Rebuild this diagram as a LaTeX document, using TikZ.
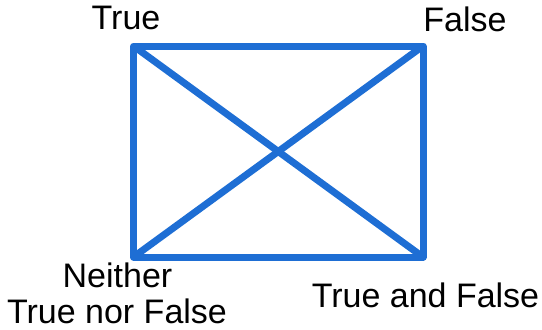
\documentclass[tikz,border=0pt]{standalone}
\usepackage{fontspec}
\setmainfont{Liberation Sans}
\definecolor{edgeblue}{RGB}{30,110,212}
\tikzset{
  square/.style={draw=edgeblue, line width=7pt, line join=round},
  corner/.style={inner sep=0pt, anchor=base, text depth=0pt, font=\fontsize{34}{39}\selectfont}
}
\begin{document}
\begin{tikzpicture}[x=1pt, y=-1pt]
        \useasboundingbox (0,0) rectangle (542,330);
        \coordinate (tl) at (133.5,46);
        \coordinate (tr) at (423,46);
        \coordinate (bl) at (133.5,257);
        \coordinate (br) at (423,257);

        % square with its two diagonals
        \draw [square] (tl) -- (tr) -- (br) -- (bl) -- cycle;
        \draw [square] (tl) -- (br);
        \draw [square] (tr) -- (bl);

        % corner labels
        \node (true) [corner] at (126,29) {True};
        \node (false) [corner] at (465,31) {False};
        \node (neither) [corner] at (117.5,287) {Neither};
        \node (neither2) [corner] at (117,323.5) {True nor False};
        \node (both) [corner] at (425.5,307) {True and False};
\end{tikzpicture}
\end{document}
